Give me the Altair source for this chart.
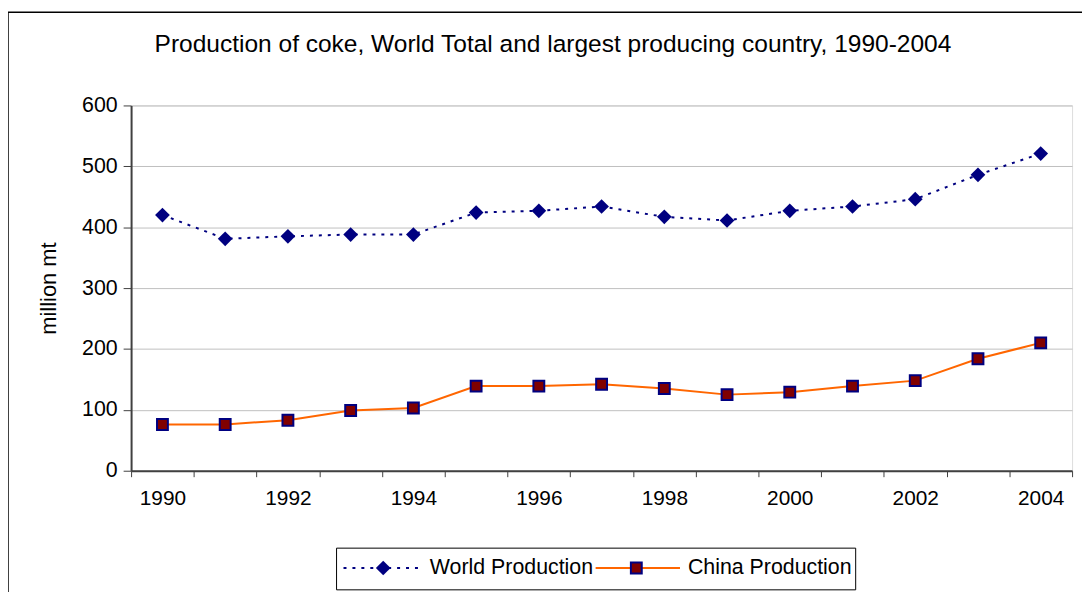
import altair as alt
import pandas as pd

years = list(range(1990, 2005))
world = [420, 381, 385, 388, 388, 424, 427, 434, 417, 411, 427, 434, 446, 486, 521]
china = [76, 76, 83, 99, 103, 139, 139, 142, 135, 125, 129, 139, 148, 184, 210]
series_names = ["World Production", "China Production"]
title_text = "Production of coke, World Total and largest producing country, 1990-2004"
y_title = "million mt"
y_ticks = [0, 100, 200, 300, 400, 500, 600]
x_label_years = [1990, 1992, 1994, 1996, 1998, 2000, 2002, 2004]
x_boundaries = [y + 0.5 for y in range(1989, 2005)]

FONT = "Liberation Sans"
W, H = 948, 368

df = pd.DataFrame({
    "year": years * 2,
    "value": world + china,
    "series": [series_names[0]] * len(years) + [series_names[1]] * len(years),
})
wdf = df[df.series == series_names[0]]
cdf = df[df.series == series_names[1]]

xscale = alt.Scale(domain=[1989.5, 2004.5], nice=False, zero=False)
yscale = alt.Scale(domain=[0, 600], nice=False)

x_label_axis = alt.Axis(
    values=x_label_years, format="d", ticks=False, domain=False,
    labelFont=FONT, labelFontSize=21, labelColor="black", labelPadding=17,
    grid=False, title=None, labelFlush=False, labelOverlap=False, orient="bottom",
)
x_tick_axis = alt.Axis(
    values=x_boundaries, labels=False, tickSize=6, tickColor="#404040", tickWidth=1,
    domainColor="#404040", domainWidth=2, grid=False, title=None, orient="bottom",
)
y_axis = alt.Axis(
    values=y_ticks, tickSize=8, tickColor="#404040", tickWidth=1,
    domainColor="#404040", domainWidth=2,
    gridColor="#c0c0c0", gridWidth=1,
    labelFont=FONT, labelFontSize=21.5, labelColor="black", labelPadding=6,
    title=y_title, titleFont=FONT, titleFontSize=22, titleFontWeight="normal",
    titleColor="black", titlePadding=21,
)

Y = alt.Y("value:Q", scale=yscale, axis=y_axis)
XL = alt.X("year:Q", scale=xscale, axis=x_label_axis)
XT = alt.X("year:Q", scale=xscale, axis=x_tick_axis)
XN = alt.X("year:Q", scale=xscale, axis=None)

world_line = alt.Chart(wdf).mark_line(color="#000080", strokeWidth=2, strokeDash=[3, 6]).encode(x=XT, y=Y)
china_line = alt.Chart(cdf).mark_line(color="#FF6600", strokeWidth=2).encode(x=XL, y=Y)
world_pts = alt.Chart(wdf).mark_point(shape="diamond", size=220, filled=True, color="#000080", opacity=1).encode(
    x=XN, y=Y)
china_pts = alt.Chart(cdf).mark_point(shape="square", size=120, filled=True, fill="#800000",
                                      stroke="#000080", strokeWidth=2, opacity=1).encode(x=XN, y=Y)

one = pd.DataFrame({"k": [0]})
frame = alt.Chart(one).mark_rect(fill=None, stroke="black", strokeWidth=1.5, clip=False).encode(
    x=alt.value(-124), x2=alt.value(966), y=alt.value(-94), y2=alt.value(500))
title_mark = alt.Chart(one).mark_text(align="center", baseline="alphabetic", font=FONT, fontSize=24.7,
                                      color="black", clip=False).encode(
    x=alt.value(425), y=alt.value(-54), text=alt.value(title_text))
LY = 466
legend_box = alt.Chart(one).mark_rect(fill="white", stroke="black", strokeWidth=1, clip=False).encode(
    x=alt.value(207), x2=alt.value(730), y=alt.value(LY - 20), y2=alt.value(LY + 22))
leg_w_line = alt.Chart(one).mark_rule(color="#000080", strokeWidth=2, strokeDash=[3, 6], clip=False).encode(
    x=alt.value(214), x2=alt.value(292), y=alt.value(LY))
leg_w_pt = alt.Chart(one).mark_point(shape="diamond", size=220, filled=True, color="#000080", opacity=1, clip=False).encode(
    x=alt.value(254), y=alt.value(LY))
leg_w_txt = alt.Chart(one).mark_text(align="left", baseline="middle", font=FONT, fontSize=21.5, color="black", clip=False).encode(
    x=alt.value(301), y=alt.value(LY), text=alt.value(series_names[0]))
leg_c_line = alt.Chart(one).mark_rule(color="#FF6600", strokeWidth=2, clip=False).encode(
    x=alt.value(468), x2=alt.value(553), y=alt.value(LY))
leg_c_pt = alt.Chart(one).mark_point(shape="square", size=120, filled=True, fill="#800000", stroke="#000080",
                                     strokeWidth=2, opacity=1, clip=False).encode(x=alt.value(509), y=alt.value(LY))
leg_c_txt = alt.Chart(one).mark_text(align="left", baseline="middle", font=FONT, fontSize=21.5, color="black", clip=False).encode(
    x=alt.value(561), y=alt.value(LY), text=alt.value(series_names[1]))

chart = alt.layer(
    frame, title_mark, world_line, china_line, world_pts, china_pts,
    legend_box, leg_w_line, leg_w_pt, leg_w_txt, leg_c_line, leg_c_pt, leg_c_txt,
).resolve_axis(x="independent").properties(
    width=W, height=H,
    autosize=alt.AutoSizeParams(type="none"),
    padding={"left": 124, "top": 96, "right": 10, "bottom": 120},
).configure_view(stroke="#a0a0a0", strokeWidth=1).configure(background="white")

chart.save("out.html", embed_options={"renderer": "svg", "actions": False})
